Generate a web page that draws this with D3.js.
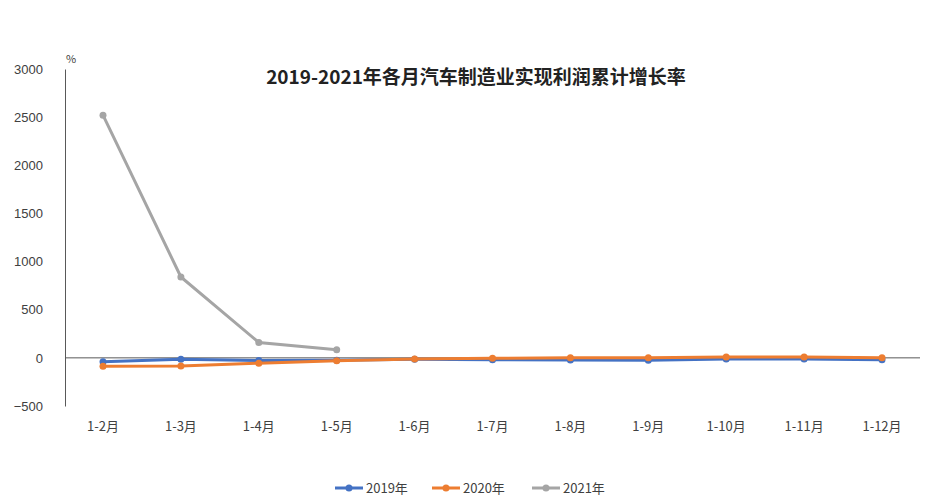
<!DOCTYPE html>
<html><head><meta charset="utf-8">
<script src="https://cdn.jsdelivr.net/npm/d3@7"></script>
<style>body{margin:0;background:#fff;font-family:"Noto Sans CJK SC","Noto Sans",sans-serif;}</style>
</head><body><svg id="chart" width="928" height="501"></svg>
<script>
var months = ["1-2月","1-3月","1-4月","1-5月","1-6月","1-7月","1-8月","1-9月","1-10月","1-11月","1-12月"];
var y2019 = [-40,-15,-28,-25,-15,-20,-22,-25,-12,-12,-20];
var y2020 = [-88,-85,-55,-30,-12,-5,0,0,8,8,0];
var y2021 = [2520,840,160,85];
var yTicks = [-500,0,500,1000,1500,2000,2500,3000];
var series = [
  {name:"2019年", values:y2019, color:"#4472c4"},
  {name:"2020年", values:y2020, color:"#ed7d31"},
  {name:"2021年", values:y2021, color:"#a5a5a5"}
];

var svg = d3.select("#chart");
var x = d3.scalePoint().domain(months).range([103,882]);
var y = d3.scaleLinear().domain([-500,3000]).range([406,69]);

svg.append("g").attr("transform","translate(65,0)")
  .call(d3.axisLeft(y).tickValues(yTicks).tickFormat(d3.format("d")).tickSize(0).tickPadding(22))
  .call(function(g){
    g.select(".domain").attr("stroke","#595959");
    g.selectAll("text").attr("font-size",13).attr("fill","#404040").attr("font-family","Liberation Sans, sans-serif");
  });

svg.append("line").attr("x1",65).attr("x2",920).attr("y1",y(0)).attr("y2",y(0)).attr("stroke","#595959");

svg.selectAll(".xl").data(months).enter().append("text")
  .attr("x",function(d){return x(d);}).attr("y",431).attr("text-anchor","middle")
  .attr("font-size",13).attr("fill","#404040").text(function(d){return d;});

svg.append("text").attr("x",66).attr("y",63).attr("font-size",11).attr("fill","#404040").text("%");
svg.append("text").attr("x",476).attr("y",84).attr("text-anchor","middle")
  .attr("font-size",19).attr("font-weight","bold").attr("fill","#222").text("2019-2021年各月汽车制造业实现利润累计增长率");

var line = d3.line().x(function(d,i){return x(months[i]);}).y(function(d){return y(d);});
series.forEach(function(s){
  svg.append("path").datum(s.values).attr("d",line).attr("fill","none")
    .attr("stroke",s.color).attr("stroke-width",3);
  svg.selectAll(null).data(s.values).enter().append("circle")
    .attr("cx",function(d,i){return x(months[i]);}).attr("cy",function(d){return y(d);})
    .attr("r",3.5).attr("fill",s.color);
});

var lx = [335,432,532];
series.forEach(function(s,i){
  var g = svg.append("g").attr("transform","translate("+lx[i]+",488)");
  g.append("line").attr("x1",0).attr("x2",28).attr("stroke",s.color).attr("stroke-width",3);
  g.append("circle").attr("cx",14).attr("r",3.5).attr("fill",s.color);
  g.append("text").attr("x",31).attr("y",5).attr("font-size",13).attr("fill","#404040").text(s.name);
});
</script></body></html>
